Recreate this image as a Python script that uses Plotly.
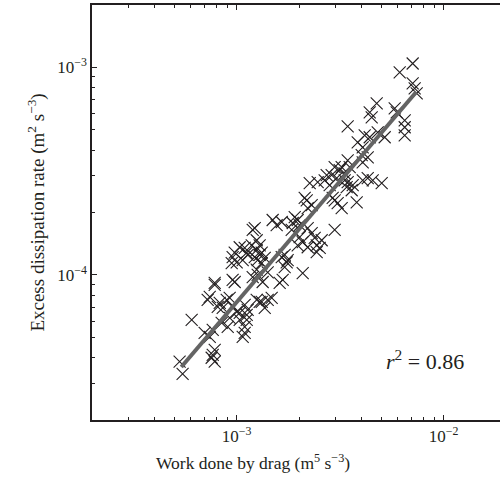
import numpy as np
import plotly.graph_objects as go

# Work done by drag (m^5 s^-3), units of 1e-3
work_e3 = [0.530, 0.548, 0.606, 0.700, 0.766, 0.741, 0.783, 0.766, 0.783, 0.757,
           0.741, 0.783, 0.828, 0.856, 0.724, 0.810, 0.956, 1.000, 0.946, 0.956,
           0.978, 0.895, 0.925, 0.956, 1.000, 1.034, 0.846, 0.905, 0.925, 1.034,
           1.118, 1.093, 1.069, 1.118, 1.093, 1.130, 1.118, 1.093, 1.291, 1.366,
           1.412, 1.195, 1.263, 1.034, 0.783, 1.222, 1.492, 1.650, 1.560, 1.907,
           1.971, 1.865, 2.015, 2.131, 0.978, 1.093, 1.182, 1.249, 1.130, 1.222,
           1.321, 1.263, 1.366, 1.069, 1.705, 1.763, 2.015, 2.084, 1.971, 1.195,
           1.249, 1.291, 2.203, 2.435, 2.518, 2.435, 1.650, 1.744, 1.705, 2.084,
           1.335, 1.668, 1.613, 1.291, 1.321, 1.249, 1.412, 1.476, 1.321, 1.249,
           2.574, 1.844, 2.203, 2.303, 2.381, 2.974, 2.179, 2.303, 2.203, 2.974,
           3.215, 3.800, 2.253, 2.462, 2.661, 2.813, 3.437, 3.399, 3.634, 4.062,
           4.295, 4.540, 5.018, 3.594, 2.974, 3.145, 3.324, 2.876, 3.041, 3.215,
           3.515, 3.437, 4.062, 4.017, 4.295, 3.437, 3.842, 4.062, 4.391, 4.800,
           5.188, 4.153, 4.746, 4.391, 4.490, 5.799, 5.929, 6.481, 6.481, 6.481,
           7.081, 6.130, 7.081, 7.241, 7.405, 2.721, 2.909, 3.075, 3.324]

# Excess dissipation rate (m^2 s^-3), units of 1e-4
diss_e4 = [0.382, 0.334, 0.608, 0.526, 0.544, 0.503, 0.436, 0.412, 0.382, 0.399,
           0.784, 0.895, 0.733, 0.694, 0.758, 0.702, 1.22, 1.15, 1.14, 0.946,
           0.925, 0.758, 0.775, 0.702, 0.664, 0.657, 0.588, 0.562, 0.621, 0.608,
           0.642, 0.526, 0.503, 1.28, 0.717, 0.679, 0.608, 0.562, 0.742, 0.694,
           0.758, 0.976, 1.00, 1.36, 0.915, 1.68, 1.84, 1.80, 1.74, 1.90,
           1.84, 1.78, 1.74, 2.35, 1.28, 1.35, 1.39, 1.32, 1.25, 1.22,
           1.28, 1.18, 1.21, 1.18, 1.25, 1.18, 1.52, 1.44, 1.39, 1.65,
           1.47, 1.39, 1.36, 1.39, 1.35, 1.29, 1.22, 1.15, 1.09, 1.02,
           0.925, 0.946, 0.915, 1.25, 1.14, 1.06, 1.03, 0.775, 0.742, 0.758,
           1.47, 1.65, 1.68, 1.59, 1.51, 1.65, 2.29, 2.17, 2.10, 2.29,
           2.10, 2.24, 2.77, 2.80, 2.86, 2.71, 2.80, 2.65, 2.71, 2.86,
           2.93, 2.86, 2.77, 2.56, 3.31, 3.20, 3.09, 3.03, 2.93, 3.31,
           3.31, 3.57, 3.49, 3.78, 3.69, 5.20, 4.36, 4.12, 4.61, 4.87,
           4.61, 4.71, 6.71, 6.08, 5.75, 6.35, 6.08, 5.56, 5.15, 4.71,
           10.45, 9.46, 8.38, 7.93, 7.50, 3.03, 2.35, 2.22, 2.86]

# Regression line end points (data units)
fit_x = [5.4e-4, 7.35e-3]
fit_y = [3.6e-5, 7.6e-4]
r2_text = "<i>r</i><sup>2</sup> = 0.86"
x_title = "Work done by drag (m<sup>5</sup> s<sup>−3</sup>)"
y_title = "Excess dissipation rate (m<sup>2</sup> s<sup>−3</sup>)"

x_tick_vals = [1e-3, 1e-2]
x_tick_text = ["10<sup>−3</sup>", "10<sup>−2</sup>"]
y_tick_vals = [1e-4, 1e-3]
y_tick_text = ["10<sup>−4</sup>", "10<sup>−3</sup>"]

x = np.array(work_e3) * 1e-3
y = np.array(diss_e4) * 1e-4

x_minor = [m * 10.0 ** e for e in (-4, -3, -2) for m in range(2, 10)]
y_minor = [m * 10.0 ** e for e in (-5, -4, -3) for m in range(2, 10)]

FONT = "Liberation Serif"
INK = "#231f20"

fig = go.Figure()
fig.add_trace(go.Scatter(
    x=x, y=y, mode="markers",
    marker=dict(symbol="x-thin", size=12, line=dict(width=1.1, color=INK), color=INK),
    showlegend=False, hoverinfo="skip"))
fig.add_trace(go.Scatter(
    x=fit_x, y=fit_y, mode="lines",
    line=dict(color="#646464", width=4),
    showlegend=False, hoverinfo="skip"))

fig.add_annotation(text=r2_text, xref="paper", yref="paper", x=0.815, y=0.145,
                   xanchor="center", yanchor="middle", showarrow=False,
                   font=dict(family=FONT, size=22, color=INK))
fig.add_annotation(text=x_title, xref="paper", yref="paper", x=0.395, y=-0.1,
                   xanchor="center", yanchor="middle", showarrow=False,
                   font=dict(family=FONT, size=17.5, color=INK))

axis_common = dict(type="log", showgrid=False, zeroline=False, showline=True,
                   linecolor=INK, linewidth=1.5, ticks="inside", ticklen=5,
                   tickwidth=1, tickcolor=INK, tickmode="array",
                   tickfont=dict(family=FONT, size=17, color=INK))

fig.update_layout(
    width=500, height=485,
    margin=dict(l=92, r=0, t=5, b=65),
    paper_bgcolor="white", plot_bgcolor="white",
    xaxis=dict(axis_common, range=[np.log10(2e-4), np.log10(2e-4) + 408 / 207],
               tickvals=x_tick_vals, ticktext=x_tick_text, mirror="allticks",
               minor=dict(ticks="inside", ticklen=3, tickwidth=1, tickcolor=INK,
                          tickmode="array", tickvals=x_minor, showgrid=False)),
    yaxis=dict(axis_common, range=[np.log10(2e-5), np.log10(2e-3)],
               tickvals=y_tick_vals, ticktext=y_tick_text, mirror=False,
               minor=dict(ticks="inside", ticklen=3, tickwidth=1, tickcolor=INK,
                          tickmode="array", tickvals=y_minor, showgrid=False),
               title=dict(text=y_title,
                          font=dict(family=FONT, size=19, color=INK), standoff=8)),
)

fig.write_html("out.html")
